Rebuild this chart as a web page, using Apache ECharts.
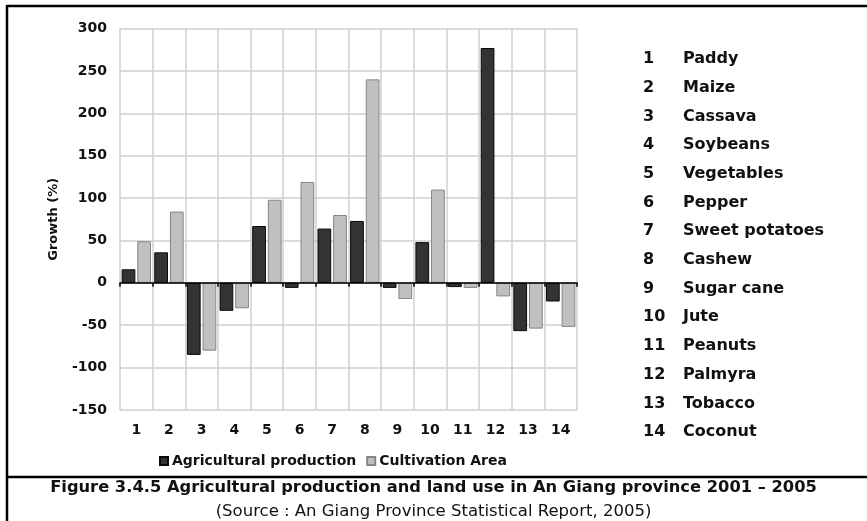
<!DOCTYPE html>
<html>
<head>
<meta charset="utf-8">
<script src="https://cdn.jsdelivr.net/npm/echarts@6/dist/echarts.min.js"></script>
<style>
  html, body { margin: 0; padding: 0; background: #fff; }
  #chart { width: 867px; height: 521px; }
</style>
</head>
<body>
<div id="chart"></div>
<script>
// Crop index numbers shown along the x axis
const categories = ['1','2','3','4','5','6','7','8','9','10','11','12','13','14'];
// Crop names listed beside the plot
const cropNames = ['Paddy','Maize','Cassava','Soybeans','Vegetables','Pepper','Sweet potatoes',
  'Cashew','Sugar cane','Jute','Peanuts','Palmyra','Tobacco','Coconut'];
// Growth 2001-2005 (%)
const productionGrowth = [16, 36, -85, -33, 67, -6, 64, 73, -6, 48, -5, 277, -57, -22];
const areaGrowth = [49, 84, -80, -30, 98, 119, 80, 240, -19, 110, -6, -16, -54, -52];
const yTicks = { min: -150, max: 300, step: 50 };

const FONT = 'DejaVu Sans';
const chart = echarts.init(document.getElementById('chart'), null, { renderer: 'canvas' });

// Side list of crop names, laid out from the arrays
const listGraphics = [];
cropNames.forEach((name, i) => {
  const y = 60 + i * 28.7;
  listGraphics.push({
    type: 'text', left: 643, top: y - 9,
    style: { text: categories[i], font: 'bold 16px ' + FONT, fill: '#111' }
  });
  listGraphics.push({
    type: 'text', left: 683, top: y - 9,
    style: { text: name, font: 'bold 16px ' + FONT, fill: '#111' }
  });
});

const option = {
  animation: false,
  backgroundColor: '#fff',
  grid: { left: 120, right: 290, top: 28.5, bottom: 111, containLabel: false },
  legend: {
    left: 154, top: 449,
    itemWidth: 8, itemHeight: 8, itemGap: 10,
    icon: 'rect',
    textStyle: { fontFamily: FONT, fontWeight: 'bold', fontSize: 14, color: '#111', padding: [0, 0, 0, -1] },
    data: ['Agricultural production', 'Cultivation Area']
  },
  xAxis: [
    {
      type: 'category', data: categories, position: 'bottom',
      axisLine: { show: false, onZero: false },
      axisTick: { show: false },
      splitLine: { show: true, lineStyle: { color: '#cfcfcf', width: 1.5 } },
      axisLabel: { fontFamily: FONT, fontWeight: 'bold', fontSize: 14, color: '#111', margin: 13 }
    },
    {
      type: 'category', data: categories, position: 'bottom', z: 10,
      axisLine: { show: true, onZero: true, lineStyle: { color: '#000', width: 1.5 } },
      axisTick: { show: true, length: 4, lineStyle: { color: '#000', width: 1.5 } },
      axisLabel: { show: false },
      splitLine: { show: false }
    }
  ],
  yAxis: {
    type: 'value', min: yTicks.min, max: yTicks.max, interval: yTicks.step,
    name: 'Growth (%)', nameLocation: 'middle', nameGap: 60, nameRotate: 90,
    nameTextStyle: { fontFamily: FONT, fontWeight: 'bold', fontSize: 13, color: '#111' },
    axisLine: { show: false },
    axisTick: { show: false },
    splitLine: { show: true, lineStyle: { color: '#cfcfcf', width: 1.5 } },
    axisLabel: { fontFamily: FONT, fontWeight: 'bold', fontSize: 14, color: '#111', margin: 13 }
  },
  series: [
    {
      name: 'Agricultural production', type: 'bar', data: productionGrowth,
      barCategoryGap: '10%', barGap: '14%',
      itemStyle: { color: '#333333', borderColor: '#0a0a0a', borderWidth: 1 }
    },
    {
      name: 'Cultivation Area', type: 'bar', data: areaGrowth,
      itemStyle: { color: '#c0c0c0', borderColor: '#858585', borderWidth: 1 }
    }
  ],
  graphic: [
    // frame lines
    { type: 'line', shape: { x1: 7, y1: 6, x2: 867, y2: 6 }, style: { stroke: '#000', lineWidth: 2.5 } },
    { type: 'line', shape: { x1: 7, y1: 5, x2: 7, y2: 521 }, style: { stroke: '#000', lineWidth: 2.5 } },
    { type: 'line', shape: { x1: 7, y1: 477, x2: 867, y2: 477 }, style: { stroke: '#000', lineWidth: 2.5 } },
    // caption
    {
      type: 'text', left: 'center', top: 480,
      style: { text: 'Figure 3.4.5 Agricultural production and land use in An Giang province 2001 \u2013 2005',
        font: 'bold 16.3px ' + FONT, fill: '#111' }
    },
    {
      type: 'text', left: 'center', top: 503,
      style: { text: '(Source : An Giang Province Statistical Report, 2005)',
        font: '16.5px ' + FONT, fill: '#111' }
    }
  ].concat(listGraphics)
};

chart.setOption(option);
</script>
</body>
</html>
